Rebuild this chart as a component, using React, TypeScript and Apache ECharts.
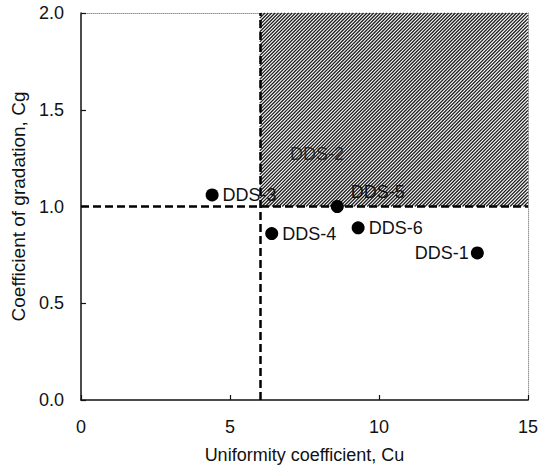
import React, { useEffect, useRef } from "react";
import * as echarts from "echarts";

const sampleNames = ["DDS-1", "DDS-3", "DDS-4", "DDS-5", "DDS-6"];
const cuValues = [13.3, 4.4, 6.4, 8.6, 9.3];
const cgValues = [0.76, 1.06, 0.86, 1.0, 0.89];
const labelSides = ["left", "right", "right", "right", "right"];

const hiddenName = "DDS-2";
const hiddenCu = 7.0;
const hiddenCg = 1.27;

const cuLimit = 6;
const cgLimit = 1;
const xMax = 15;
const yMax = 2;
const xTicks = [0, 5, 10, 15];
const yTicks = [0, 0.5, 1.0, 1.5, 2.0];

const FONT = "Liberation Sans, Arial, sans-serif";

export default function App() {
  const ref = useRef<HTMLDivElement>(null);
  useEffect(() => {
    if (!ref.current) return;
    const chart = echarts.init(ref.current, null, { renderer: "svg" });
    const pts = sampleNames.map((n, i) => ({
      name: n,
      value: [cuValues[i], cgValues[i]],
      label:
        n === "DDS-5"
          ? { position: "right", distance: 7, offset: [0, -15] }
          : { position: labelSides[i], distance: labelSides[i] === "left" ? 2 : 4 },
    }));
    chart.setOption({
      animation: false,
      backgroundColor: "#ffffff",
      grid: { left: 81, right: 17, top: 13, bottom: 66 },
      xAxis: [
        {
          type: "value",
          min: 0,
          max: xMax,
          interval: 5,
          name: "Uniformity coefficient, Cu",
          nameLocation: "middle",
          nameGap: 46,
          nameTextStyle: { fontFamily: FONT, fontSize: 18, color: "#111" },
          axisLine: { show: true, lineStyle: { color: "#111", width: 1.5 } },
          axisTick: { show: true, inside: true, length: 5, lineStyle: { color: "#111", width: 1.2 } },
          axisLabel: {
            fontFamily: FONT,
            fontSize: 18,
            color: "#111",
            margin: 18,
            formatter: (v: number) => (xTicks.includes(v) ? String(v) : ""),
          },
          splitLine: { show: false },
        },
        {
          type: "value",
          position: "top",
          min: 0,
          max: xMax,
          axisLine: { show: true, onZero: false, lineStyle: { color: "#999", width: 1, type: "dotted" } },
          axisTick: { show: false },
          axisLabel: { show: false },
          splitLine: { show: false },
        },
      ],
      yAxis: [
        {
          type: "value",
          min: 0,
          max: yMax,
          interval: 0.5,
          name: "Coefficient of gradation, Cg",
          nameLocation: "middle",
          nameGap: 48,
          nameTextStyle: { fontFamily: FONT, fontSize: 19, color: "#111" },
          axisLine: { show: true, lineStyle: { color: "#111", width: 1.5 } },
          axisTick: { show: true, inside: true, length: 5, lineStyle: { color: "#111", width: 1.2 } },
          axisLabel: {
            fontFamily: FONT,
            fontSize: 18,
            color: "#111",
            margin: 17,
            formatter: (v: number) => (yTicks.includes(v) ? v.toFixed(1) : ""),
          },
          splitLine: { show: false },
        },
        {
          type: "value",
          position: "right",
          min: 0,
          max: yMax,
          axisLine: { show: true, onZero: false, lineStyle: { color: "#999", width: 1, type: "dotted" } },
          axisTick: { show: false },
          axisLabel: { show: false },
          splitLine: { show: false },
        },
      ],
      series: [
        {
          type: "custom",
          z: 1,
          silent: true,
          data: [[cuLimit, cgLimit, xMax, yMax]],
          renderItem: (params: any, api: any) => {
            const tl = api.coord([api.value(0), api.value(3)]);
            const br = api.coord([api.value(2), api.value(1)]);
            const x0 = tl[0], y0 = tl[1], x1 = br[0], y1 = br[1];
            const s = 3.4;
            const children: any[] = [];
            for (let c = x0 + y0 + s / 2; c < x1 + y1; c += s) {
              const ya = Math.max(y0, c - x1);
              const yb = Math.min(y1, c - x0);
              if (yb <= ya) continue;
              children.push({
                type: "line",
                shape: { x1: c - ya, y1: ya, x2: c - yb, y2: yb },
                style: { stroke: "#1e1e1e", lineWidth: 1.3 },
              });
            }
            return { type: "group", children };
          },
        },
        {
          type: "scatter",
          z: 3,
          symbol: "circle",
          symbolSize: 13,
          itemStyle: { color: "#000", opacity: 1 },
          label: {
            show: true,
            formatter: "{b}",
            fontFamily: FONT,
            fontSize: 18,
            color: "#111",
          },
          data: pts,
          markLine: {
            silent: true,
            symbol: "none",
            label: { show: false },
            lineStyle: { color: "#000", width: 2.5, type: [8, 4] },
            data: [{ xAxis: cuLimit }, { yAxis: cgLimit }],
          },
        },
        {
          type: "scatter",
          z: 4,
          symbolSize: 1,
          itemStyle: { color: "rgba(0,0,0,0)" },
          label: {
            show: true,
            position: "right",
            distance: 0,
            formatter: "{b}",
            fontFamily: FONT,
            fontSize: 18,
            color: "#111",
          },
          data: [{ name: hiddenName, value: [hiddenCu, hiddenCg] }],
        },
      ],
    });
    return () => chart.dispose();
  }, []);
  return (
    <div
      ref={ref}
      style={{ position: "fixed", left: 0, top: 0, width: 545, height: 469 }}
    />
  );
}
